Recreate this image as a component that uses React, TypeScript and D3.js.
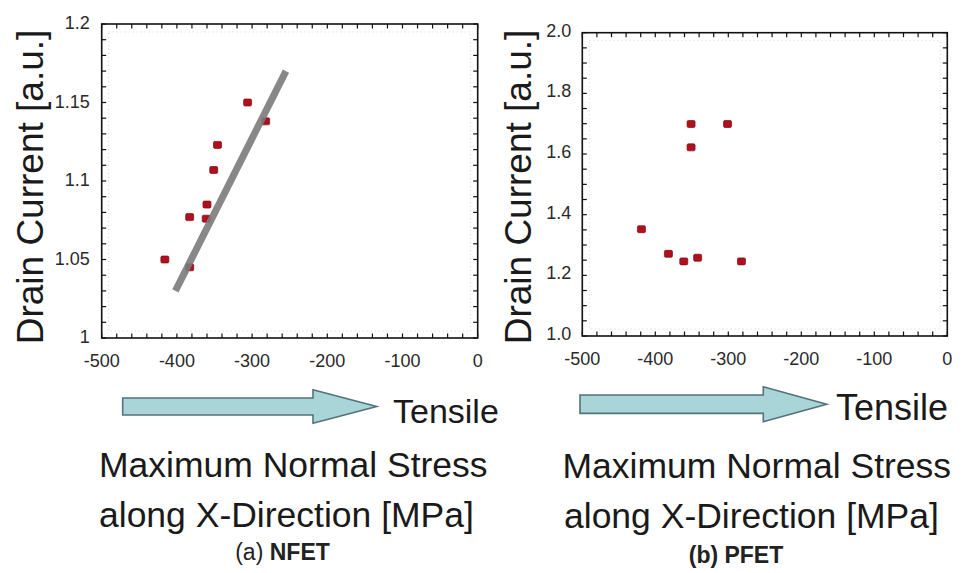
import React from "react";
import * as d3 from "d3";

// ---------- data ----------
const nfetStress = [-416, -383, -383, -361, -360, -351, -346, -306, -282];
const nfetCurrent = [1.05, 1.045, 1.077, 1.076, 1.085, 1.107, 1.123, 1.15, 1.138];
const nfetTrendStress = [-402, -255];
const nfetTrendCurrent = [1.03, 1.17];

const pfetStress = [-419, -382, -361, -342, -282, -351, -351, -301];
const pfetCurrent = [1.352, 1.271, 1.246, 1.258, 1.246, 1.622, 1.699, 1.699];

const xTickValues = [-500, -400, -300, -200, -100, 0];
const xTickLabels = ["-500", "-400", "-300", "-200", "-100", "0"];
const nfetYTickValues = [1, 1.05, 1.1, 1.15, 1.2];
const nfetYTickLabels = ["1", "1.05", "1.1", "1.15", "1.2"];
const pfetYTickValues = [1.0, 1.2, 1.4, 1.6, 1.8, 2.0];
const pfetYTickLabels = ["1.0", "1.2", "1.4", "1.6", "1.8", "2.0"];

const yTitle = "Drain Current [a.u.]";
const xTitle1 = "Maximum Normal Stress";
const xTitle2 = "along X-Direction [MPa]";
const arrowLabel = "Tensile";
const panelTags = ["(a)", "(b)"];
const panelNames = ["NFET", "PFET"];

const W = 965;
const H = 573;
const TICK_FONT = "'Liberation Sans', Arial, sans-serif";
const SANS = "'Liberation Sans', Arial, sans-serif";

type PanelProps = {
  x: d3.ScaleLinear<number, number>;
  y: d3.ScaleLinear<number, number>;
  yMinorStep: number;
  yTicks: number[];
  yLabels: string[];
  xs: number[];
  ys: number[];
  labelGap: number;
  labelDy: number;
  trend?: { xs: number[]; ys: number[] };
};

function Panel({ x, y, yMinorStep, yTicks, yLabels, xs, ys, labelGap, labelDy, trend }: PanelProps) {
  const [x0, x1] = x.range();
  const [yb, yt] = y.range();
  const xd = x.domain();
  const yd = y.domain();
  const xMinor = d3.range(xd[0], xd[1] + 1e-9, 20);
  const nY = Math.round((yd[1] - yd[0]) / yMinorStep);
  const yMinor = d3.range(0, nY + 1).map((i) => yd[0] + i * yMinorStep);
  const tl = 4.5;
  const line = d3
    .line<number>()
    .x((_, i) => x(trend ? trend.xs[i] : 0))
    .y((_, i) => y(trend ? trend.ys[i] : 0));
  return (
    <g>
      {/* faint dotted inner frame */}
      <rect
        x={x0 + 7}
        y={yt + 8}
        width={x1 - x0 - 14}
        height={yb - yt - 15}
        fill="none"
        stroke="#d4d4d4"
        strokeWidth={1}
        strokeDasharray="1 3"
      />
      {/* minor / major ticks, mirrored on all sides */}
      {xMinor.map((v, i) => (
        <g key={"xt" + i}>
          <line x1={x(v)} x2={x(v)} y1={yb} y2={yb - tl} stroke="#111" strokeWidth={1.2} />
          <line x1={x(v)} x2={x(v)} y1={yt} y2={yt + tl} stroke="#111" strokeWidth={1.2} />
        </g>
      ))}
      {yMinor.map((v, i) => (
        <g key={"yt" + i}>
          <line x1={x0} x2={x0 + tl} y1={y(v)} y2={y(v)} stroke="#111" strokeWidth={1.2} />
          <line x1={x1} x2={x1 - tl} y1={y(v)} y2={y(v)} stroke="#111" strokeWidth={1.2} />
        </g>
      ))}
      <rect x={x0} y={yt} width={x1 - x0} height={yb - yt} fill="none" stroke="#111" strokeWidth={1.6} />
      {/* tick labels */}
      {xTickValues.map((v, i) => (
        <text
          key={"xl" + i}
          x={x(v)}
          y={yb + 29}
          textAnchor="middle"
          fontFamily={TICK_FONT}
          fontSize={18}
          fill="#2a2a2a"
        >
          {xTickLabels[i]}
        </text>
      ))}
      {yTicks.map((v, i) => (
        <text
          key={"yl" + i}
          x={x0 - labelGap}
          y={y(v) + labelDy}
          textAnchor="end"
          fontFamily={TICK_FONT}
          fontSize={18}
          fill="#2a2a2a"
        >
          {yLabels[i]}
        </text>
      ))}
      {/* markers */}
      {xs.map((v, i) => (
        <rect
          key={"m" + i}
          x={x(v) - 4}
          y={y(ys[i]) - 3.5}
          width={8}
          height={7}
          rx={1.4}
          fill="#b00f1e"
          stroke="#7a0c14"
          strokeWidth={0.7}
        />
      ))}
      {trend && (
        <path
          d={line(trend.xs) || ""}
          fill="none"
          stroke="#7b7b7b"
          strokeWidth={7}
          strokeOpacity={0.9}
        />
      )}
    </g>
  );
}

function Arrow({ x0, xh, xt, yc, hb, hh }: { x0: number; xh: number; xt: number; yc: number; hb: number; hh: number }) {
  const p = d3.path();
  p.moveTo(x0, yc - hb);
  p.lineTo(xh, yc - hb);
  p.lineTo(xh, yc - hh);
  p.lineTo(xt, yc);
  p.lineTo(xh, yc + hh);
  p.lineTo(xh, yc + hb);
  p.lineTo(x0, yc + hb);
  p.closePath();
  return <path d={p.toString()} fill="#a9d5d9" stroke="#52737a" strokeWidth={1.6} />;
}

export default function App() {
  const xL = d3.scaleLinear().domain([-500, 0]).range([101.7, 477.7]);
  const yL = d3.scaleLinear().domain([1, 1.2]).range([338, 24]);
  const xR = d3.scaleLinear().domain([-500, 0]).range([582.3, 947.3]);
  const yR = d3.scaleLinear().domain([1, 2]).range([336, 32.7]);

  return (
    <svg
      width={W}
      height={H}
      viewBox={`0 0 ${W} ${H}`}
      style={{ position: "absolute", left: 0, top: 0, background: "#fff" }}
    >
      <rect x={0} y={0} width={W} height={H} fill="#fff" />
      <Panel
        x={xL}
        y={yL}
        yMinorStep={0.01}
        yTicks={nfetYTickValues}
        yLabels={nfetYTickLabels}
        xs={nfetStress}
        ys={nfetCurrent}
        labelGap={12}
        labelDy={5}
        trend={{ xs: nfetTrendStress, ys: nfetTrendCurrent }}
      />
      <Panel
        x={xR}
        y={yR}
        yMinorStep={0.05}
        yTicks={pfetYTickValues}
        yLabels={pfetYTickLabels}
        xs={pfetStress}
        ys={pfetCurrent}
        labelGap={11}
        labelDy={4}
      />

      {/* y titles */}
      <text
        transform="translate(43,187) rotate(-90)"
        textAnchor="middle"
        fontFamily={SANS}
        fontSize={37}
        fill="#1a1a1a"
      >
        {yTitle}
      </text>
      <text
        transform="translate(531,187) rotate(-90)"
        textAnchor="middle"
        fontFamily={SANS}
        fontSize={37}
        fill="#1a1a1a"
      >
        {yTitle}
      </text>

      {/* arrows */}
      <Arrow x0={122.7} xh={313} xt={376.7} yc={406.5} hb={8.5} hh={16.7} />
      <Arrow x0={580} xh={763.3} xt={826.7} yc={404.2} hb={9.2} hh={17.5} />
      <text x={393} y={423.3} fontFamily={SANS} fontSize={34} fill="#1a1a1a">
        {arrowLabel}
      </text>
      <text x={836} y={420} fontFamily={SANS} fontSize={36} fill="#1a1a1a">
        {arrowLabel}
      </text>

      {/* x titles */}
      <text x={99} y={476.7} fontFamily={SANS} fontSize={35.5} fill="#1a1a1a">
        {xTitle1}
      </text>
      <text x={99} y={526.7} fontFamily={SANS} fontSize={35.5} fill="#1a1a1a">
        {xTitle2}
      </text>
      <text x={562.5} y={478.3} fontFamily={SANS} fontSize={35.5} fill="#1a1a1a">
        {xTitle1}
      </text>
      <text x={564} y={528.3} fontFamily={SANS} fontSize={35.5} fill="#1a1a1a">
        {xTitle2}
      </text>

      {/* panel captions */}
      <text x={282.5} y={560} textAnchor="middle" fontFamily={SANS} fontSize={23} fill="#222">
        <tspan>{panelTags[0]}</tspan>
        <tspan fontWeight="bold">{" " + panelNames[0]}</tspan>
      </text>
      <text x={736} y={563} textAnchor="middle" fontFamily={SANS} fontSize={23} fill="#222" fontWeight="bold">
        <tspan>{panelTags[1]}</tspan>
        <tspan>{" " + panelNames[1]}</tspan>
      </text>
    </svg>
  );
}
